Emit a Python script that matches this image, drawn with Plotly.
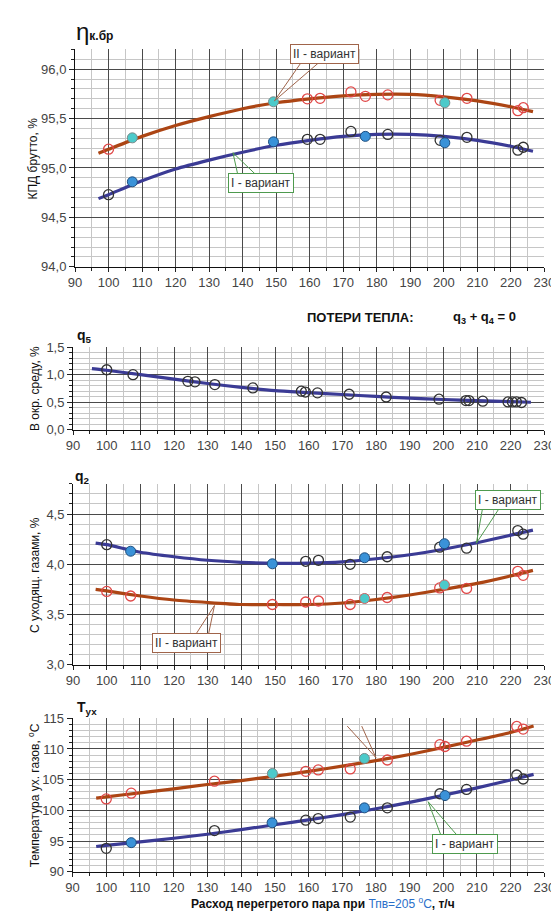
import plotly.graph_objects as go

W, H = 559, 913

# ---------------- data ----------------
# Panel 1: efficiency (КПД брутто)
eta_trend_x = [97, 100, 110, 120, 130, 140, 150, 160, 170, 180, 190, 200, 210, 220, 226.6]
eta_I_trend = [94.69, 94.73, 94.87, 94.99, 95.08, 95.16, 95.23, 95.28, 95.32, 95.34, 95.34, 95.32, 95.28, 95.22, 95.17]
eta_II_trend = [95.15, 95.19, 95.32, 95.43, 95.52, 95.60, 95.66, 95.70, 95.73, 95.745, 95.745, 95.72, 95.68, 95.62, 95.57]
eta_I_open_x = [100, 159.3, 163.1, 172.3, 183.3, 198.9, 206.9, 222.1, 223.7]
eta_I_open = [94.73, 95.29, 95.29, 95.37, 95.34, 95.28, 95.31, 95.18, 95.21]
eta_I_fill_x = [107.1, 149.2, 176.6, 200.3]
eta_I_fill = [94.86, 95.265, 95.32, 95.255]
eta_II_open_x = [100, 159.3, 163.1, 172.3, 176.6, 183.3, 198.9, 206.9, 222.1, 223.7]
eta_II_open = [95.19, 95.70, 95.705, 95.77, 95.725, 95.74, 95.685, 95.705, 95.58, 95.61]
eta_II_fill_x = [107.1, 149.2, 200.3]
eta_II_fill = [95.305, 95.67, 95.66]

# Panel 2: q5
q5_trend_x = [95.6, 100, 110, 120, 130, 140, 150, 160, 170, 180, 190, 200, 210, 220, 226]
q5_trend = [1.11, 1.08, 1.0, 0.92, 0.84, 0.77, 0.71, 0.675, 0.64, 0.605, 0.575, 0.55, 0.53, 0.51, 0.50]
q5_x = [100, 107.8, 124.1, 126.2, 132.1, 143.4, 157.8, 159.0, 162.6, 172.0, 183.0, 198.7, 206.7, 207.6, 211.7, 219.2, 220.5, 221.7, 223.2]
q5 = [1.09, 1.0, 0.88, 0.87, 0.82, 0.76, 0.70, 0.685, 0.67, 0.645, 0.595, 0.555, 0.53, 0.53, 0.52, 0.505, 0.505, 0.505, 0.495]

# Panel 3: q2
q2_trend_x = [96.7, 100, 110, 120, 130, 140, 150, 160, 170, 180, 190, 200, 210, 220, 226.6]
q2_I_trend = [4.21, 4.195, 4.12, 4.075, 4.04, 4.02, 4.01, 4.012, 4.025, 4.055, 4.095, 4.15, 4.215, 4.29, 4.34]
q2_II_trend = [3.75, 3.735, 3.685, 3.645, 3.62, 3.60, 3.60, 3.60, 3.615, 3.65, 3.695, 3.75, 3.81, 3.885, 3.94]
q2_I_open_x = [100, 159.1, 162.9, 172.3, 183.3, 198.9, 206.9, 222.1, 223.7]
q2_I_open = [4.195, 4.03, 4.04, 4.0, 4.075, 4.17, 4.16, 4.335, 4.30]
q2_I_fill_x = [107.1, 149.2, 176.6, 200.3]
q2_I_fill = [4.13, 4.005, 4.065, 4.205]
q2_II_open_x = [100, 107.1, 149.2, 159.1, 162.9, 172.3, 183.3, 198.9, 206.9, 222.1, 223.7]
q2_II_open = [3.73, 3.685, 3.60, 3.625, 3.635, 3.60, 3.67, 3.765, 3.76, 3.93, 3.89]
q2_II_fill_x = [176.6, 200.3]
q2_II_fill = [3.66, 3.795]

# Panel 4: flue gas temperature
T_trend_x = [97, 100, 110, 120, 130, 140, 150, 160, 170, 180, 190, 200, 210, 220, 226.8]
T_I_trend = [94.1, 94.3, 94.85, 95.45, 96.1, 96.85, 97.65, 98.45, 99.3, 100.25, 101.3, 102.45, 103.65, 104.95, 105.85]
T_II_trend = [102.0, 102.2, 102.85, 103.5, 104.2, 104.85, 105.55, 106.35, 107.2, 108.1, 109.1, 110.25, 111.45, 112.7, 113.75]
T_I_open_x = [100, 132.1, 159.2, 162.9, 172.4, 183.4, 199.0, 206.9, 221.8, 223.7]
T_I_open = [93.8, 96.7, 98.4, 98.65, 98.9, 100.4, 102.7, 103.4, 105.75, 105.1]
T_I_fill_x = [107.4, 149.2, 176.6, 200.5]
T_I_fill = [94.73, 97.97, 100.4, 102.4]
T_II_open_x = [100, 107.4, 132.1, 159.2, 162.9, 172.4, 183.4, 199.0, 200.5, 206.9, 221.8, 223.7]
T_II_open = [101.86, 102.8, 104.74, 106.35, 106.58, 106.75, 108.2, 110.7, 110.4, 111.26, 113.66, 113.24]
T_II_fill_x = [149.3, 176.6]
T_II_fill = [106.0, 108.45]

x_ticks = list(range(90, 231, 10))

# ---------------- styles ----------------
C_I = "#3B3B95"
C_II = "#AC4514"
C_OPEN_I = "#333333"
C_OPEN_II = "#E04848"
C_FILL_I = "#3A92D8"
C_FILL_II = "#4CCACA"
C_BOX_I = "#4E9A4E"
C_BOX_II = "#A0644A"
FONT = "Liberation Sans, Arial, sans-serif"
GRID_MAJOR = "#4a4a4a"
GRID_MINOR = "#c6c6c6"

fig = go.Figure()


def add_line(x, y, color, ax):
    fig.add_trace(go.Scatter(x=x, y=y, mode="lines", line=dict(color=color, width=3.2, shape="spline", smoothing=0.6),
                             xaxis="x" + ax, yaxis="y" + ax, showlegend=False, hoverinfo="skip"))


def add_open(x, y, color, ax):
    fig.add_trace(go.Scatter(x=x, y=y, mode="markers",
                             marker=dict(symbol="circle-open", size=10, color=color, line=dict(width=1.3, color=color)),
                             xaxis="x" + ax, yaxis="y" + ax, showlegend=False))


def add_fill(x, y, color, edge, ax):
    fig.add_trace(go.Scatter(x=x, y=y, mode="markers",
                             marker=dict(symbol="circle", size=10, color=color, line=dict(width=1, color=edge)),
                             xaxis="x" + ax, yaxis="y" + ax, showlegend=False))


# panel 1
add_line(eta_trend_x, eta_II_trend, C_II, "")
add_line(eta_trend_x, eta_I_trend, C_I, "")
add_open(eta_II_open_x, eta_II_open, C_OPEN_II, "")
add_fill(eta_II_fill_x, eta_II_fill, C_FILL_II, "#7A8A8A", "")
add_open(eta_I_open_x, eta_I_open, C_OPEN_I, "")
add_fill(eta_I_fill_x, eta_I_fill, C_FILL_I, "#1F4F7F", "")
# panel 2
add_line(q5_trend_x, q5_trend, C_I, "2")
add_open(q5_x, q5, C_OPEN_I, "2")
# panel 3
add_line(q2_trend_x, q2_I_trend, C_I, "3")
add_line(q2_trend_x, q2_II_trend, C_II, "3")
add_open(q2_II_open_x, q2_II_open, C_OPEN_II, "3")
add_fill(q2_II_fill_x, q2_II_fill, C_FILL_II, "#D06060", "3")
add_open(q2_I_open_x, q2_I_open, C_OPEN_I, "3")
add_fill(q2_I_fill_x, q2_I_fill, C_FILL_I, "#1F4F7F", "3")
# panel 4
add_line(T_trend_x, T_II_trend, C_II, "4")
add_line(T_trend_x, T_I_trend, C_I, "4")
add_open(T_II_open_x, T_II_open, C_OPEN_II, "4")
add_fill(T_II_fill_x, T_II_fill, C_FILL_II, "#7A8A8A", "4")
add_open(T_I_open_x, T_I_open, C_OPEN_I, "4")
add_fill(T_I_fill_x, T_I_fill, C_FILL_I, "#1F4F7F", "4")


def ydom(top_px, bot_px):
    return [1 - bot_px / H, 1 - top_px / H]


def xaxis_def(left_px, anchor):
    return dict(domain=[left_px / W, 547 / W], range=[90, 230], tickvals=x_ticks, anchor=anchor,
                showgrid=True, gridcolor=GRID_MAJOR, gridwidth=1,
                minor=dict(dtick=5, tick0=90, showgrid=True, gridcolor=GRID_MINOR, ticks="outside", ticklen=3,
                           tickcolor="#222"),
                ticks="outside", ticklen=4, tickcolor="#222", showline=True, linecolor="#111", linewidth=1,
                zeroline=False, tickfont=dict(size=13, color="#444", family=FONT))


def yaxis_def(dom, rng, dtick, mdtick, fmt, anchor):
    return dict(domain=dom, range=rng, dtick=dtick, tick0=rng[0], tickformat=fmt, anchor=anchor,
                showgrid=True, gridcolor=GRID_MAJOR, gridwidth=1,
                minor=dict(dtick=mdtick, tick0=rng[0], showgrid=True, gridcolor=GRID_MINOR, ticks="outside",
                           ticklen=3, tickcolor="#222"),
                ticks="outside", ticklen=5, tickcolor="#222", showline=True, linecolor="#111", linewidth=1,
                zeroline=False, tickfont=dict(size=13, color="#444", family=FONT))


annotations = []
shapes = []


def callout(text, ax, bx, by, tx, ty, b1, b2, base_y, color):
    annotations.append(dict(text=text, x=bx, y=by, xref="x" + ax, yref="y" + ax, showarrow=False,
                            bordercolor=color, borderwidth=1, bgcolor="white", borderpad=2,
                            font=dict(size=12, color="#333", family=FONT)))
    shapes.append(dict(type="path", path=f"M {b1},{base_y} L {tx},{ty} L {b2},{base_y}",
                       xref="x" + ax, yref="y" + ax, line=dict(color=color, width=1)))


callout("II - вариант", "", 164.3, 96.15, 149.5, 95.68, 157.3, 162.5, 96.06, C_BOX_II)
callout("I - вариант", "", 145.6, 94.85, 137.1, 95.155, 138.5, 143.7, 94.94, C_BOX_I)
callout("I - вариант", "3", 219.2, 4.636, 209.8, 4.21, 211.6, 216.5, 4.552, C_BOX_I)
callout("II - вариант", "3", 123.8, 3.217, 132.0, 3.59, 126.4, 130.2, 3.30, C_BOX_II)
callout("II - вариант", "4", 168.3, 115.08, 180.0, 108.6, 171.5, 175.8, 113.72, C_BOX_II)
callout("I - вариант", "4", 206.5, 94.57, 195.5, 101.4, 199.3, 204.1, 95.93, C_BOX_I)


def paper_text(text, px, py, size=12, xanchor="center", angle=0, color="#111"):
    annotations.append(dict(text=text, x=px / W, y=1 - py / H, xref="paper", yref="paper", showarrow=False,
                            xanchor=xanchor, yanchor="middle", textangle=angle,
                            font=dict(size=size, color=color, family=FONT)))


# panel symbols
paper_text("<span style='font-size:24px'>η</span><b>к.бр</b>", 61, 17, size=12, xanchor="left")
paper_text("<b>q<sub>5</sub></b>", 62, 326, size=14, xanchor="left")
paper_text("<b>q<sub>2</sub></b>", 60, 470, size=14, xanchor="left")
paper_text("<b>T<sub>ух</sub></b>", 62, 705, size=14, xanchor="left")
# heading
paper_text("<b>ПОТЕРИ ТЕПЛА:</b>", 357, 308, size=13)
paper_text("<b>q<sub>3</sub> + q<sub>4</sub> = 0</b>", 485, 308, size=13)
# y-axis titles
paper_text("КПД брутто, %", 19, 145.5, size=12, angle=-90)
paper_text("В окр. среду, %", 20, 380, size=12, angle=-90)
paper_text("С уходящ. газами, %", 20, 569, size=12, angle=-90)
paper_text("Температура ух. газов, <sup>o</sup>C", 20, 793, size=12, angle=-90)
# x-axis title
paper_text("<b>Расход перегретого пара при </b><span style='color:#2A6FC9'>Тпв=205 <sup>o</sup>C</span><b>, т/ч</b>",
           318, 903, size=12)

fig.update_layout(
    width=W, height=H, margin=dict(l=0, r=0, t=0, b=0),
    paper_bgcolor="white", plot_bgcolor="white", separators=", ",
    font=dict(family=FONT, color="#222"),
    xaxis=xaxis_def(62, "y"),
    yaxis=yaxis_def(ydom(35, 256), [94, 96.2], 0.5, 0.1, ".1f", "x"),
    xaxis2=xaxis_def(60, "y2"),
    yaxis2=yaxis_def(ydom(337.7, 421.7), [0, 1.5], 0.5, 0.1, ".1f", "x2"),
    xaxis3=xaxis_def(60, "y3"),
    yaxis3=yaxis_def(ydom(476.7, 660.7), [3.0, 4.8], 0.5, 0.1, ".1f", "x3"),
    xaxis4=xaxis_def(59.5, "y4"),
    yaxis4=yaxis_def(ydom(715, 871), [90, 115], 5, 1, "d", "x4"),
    annotations=annotations, shapes=shapes,
)

fig.write_html("out.html")
